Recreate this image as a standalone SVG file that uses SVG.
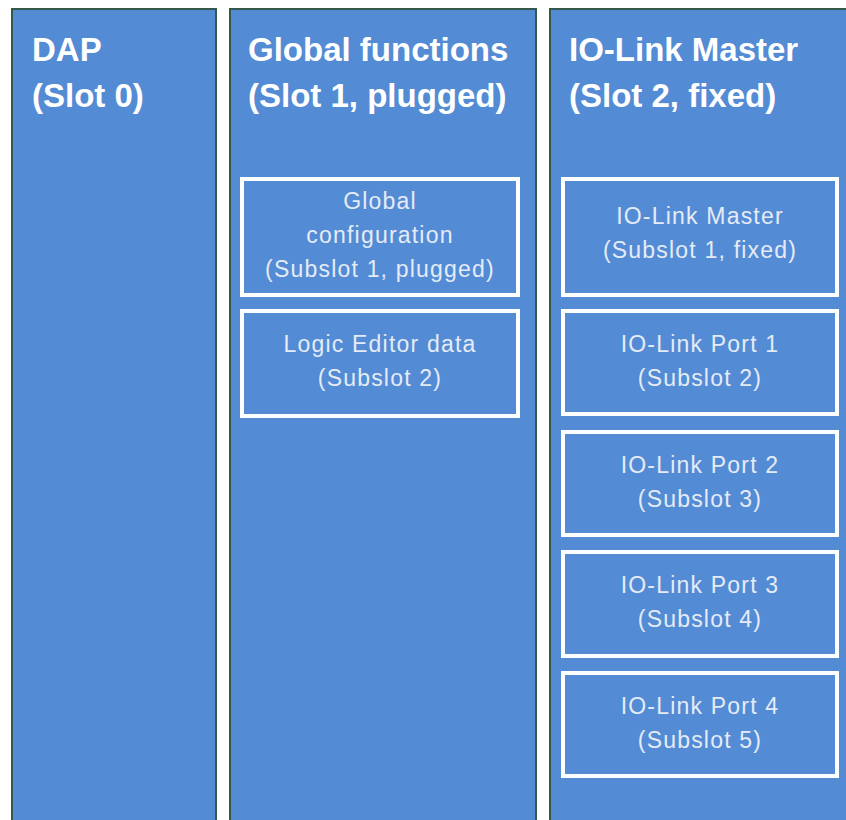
<svg xmlns="http://www.w3.org/2000/svg" width="846" height="820" viewBox="0 0 846 820">
  <style>
    .slot { fill: #548bd5; stroke: #34584a; stroke-width: 2; }
    .sub { fill: #548bd5; stroke: #ffffff; stroke-width: 4; }
    .title { font-family: "Liberation Sans", Arial, sans-serif; font-size: 33px; font-weight: bold; fill: #ffffff; }
    .label { font-family: "Liberation Sans", Arial, sans-serif; font-size: 23px; letter-spacing: 1.2px; fill: #e4ebf6; text-anchor: middle; }
  </style>
  <rect x="0" y="0" width="846" height="820" fill="#ffffff"/>

  <!-- Slot 0 -->
  <g id="dap">
    <rect class="slot" x="12" y="9" width="204" height="830"/>
    <text class="title" x="32" y="61">DAP</text>
    <text class="title" x="32" y="107">(Slot 0)</text>
  </g>

  <!-- Slot 1 -->
  <g id="global-functions">
    <rect class="slot" x="230" y="9" width="306" height="830"/>
    <text class="title" x="248" y="61">Global functions</text>
    <text class="title" x="248" y="107">(Slot 1, plugged)</text>
  </g>
  <g id="global-configuration">
    <rect class="sub" x="242" y="179" width="276" height="116"/>
    <text class="label" x="380" y="209">Global</text>
    <text class="label" x="380" y="243">configuration</text>
    <text class="label" x="380" y="277">(Subslot 1, plugged)</text>
  </g>
  <g id="logic-editor-data">
    <rect class="sub" x="242" y="311" width="276" height="105"/>
    <text class="label" x="380" y="352">Logic Editor data</text>
    <text class="label" x="380" y="386">(Subslot 2)</text>
  </g>

  <!-- Slot 2 -->
  <g id="io-link-master-slot">
    <rect class="slot" x="550" y="9" width="320" height="830"/>
    <text class="title" x="569" y="61">IO-Link Master</text>
    <text class="title" x="569" y="107">(Slot 2, fixed)</text>
  </g>
  <g id="io-link-master">
    <rect class="sub" x="563" y="179" width="274" height="116"/>
    <text class="label" x="700" y="224">IO-Link Master</text>
    <text class="label" x="700" y="258">(Subslot 1, fixed)</text>
  </g>
  <g id="io-link-port-1">
    <rect class="sub" x="563" y="311" width="274" height="103"/>
    <text class="label" x="700" y="352">IO-Link Port 1</text>
    <text class="label" x="700" y="386">(Subslot 2)</text>
  </g>
  <g id="io-link-port-2">
    <rect class="sub" x="563" y="432" width="274" height="103"/>
    <text class="label" x="700" y="473">IO-Link Port 2</text>
    <text class="label" x="700" y="507">(Subslot 3)</text>
  </g>
  <g id="io-link-port-3">
    <rect class="sub" x="563" y="552" width="274" height="104"/>
    <text class="label" x="700" y="593">IO-Link Port 3</text>
    <text class="label" x="700" y="627">(Subslot 4)</text>
  </g>
  <g id="io-link-port-4">
    <rect class="sub" x="563" y="673" width="274" height="103"/>
    <text class="label" x="700" y="714">IO-Link Port 4</text>
    <text class="label" x="700" y="748">(Subslot 5)</text>
  </g>

  <g id="connectors"/>
</svg>
